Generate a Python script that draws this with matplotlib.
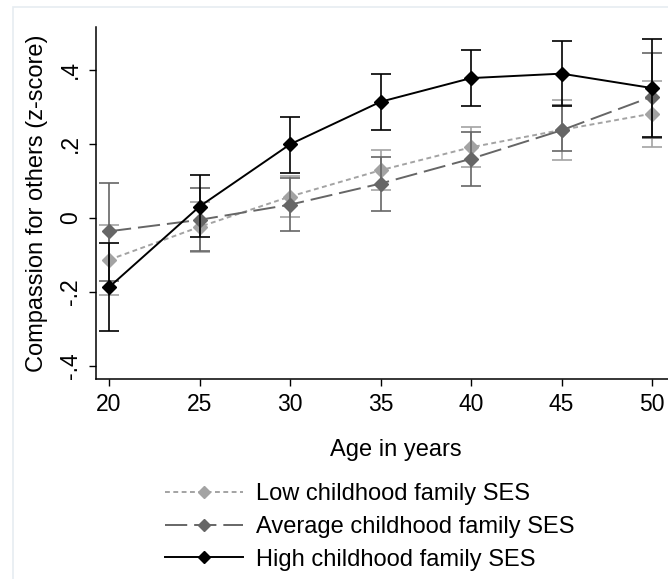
import matplotlib
matplotlib.use("Agg")
import matplotlib.pyplot as plt
from matplotlib.lines import Line2D
from matplotlib.patches import Rectangle

plt.rcParams['font.family'] = ['Liberation Sans', 'DejaVu Sans']
plt.rcParams['lines.scale_dashes'] = False

ages = [20, 25, 30, 35, 40, 45, 50]

low = [-0.113, -0.024, 0.058, 0.129, 0.191, 0.238, 0.282]
low_hi = [-0.019, 0.042, 0.113, 0.183, 0.246, 0.318, 0.370]
low_lo = [-0.209, -0.093, 0.002, 0.075, 0.137, 0.157, 0.193]

avg = [-0.036, -0.005, 0.036, 0.093, 0.160, 0.237, 0.328]
avg_hi = [0.095, 0.080, 0.108, 0.164, 0.231, 0.305, 0.447]
avg_lo = [-0.169, -0.090, -0.036, 0.020, 0.087, 0.180, 0.215]

high = [-0.187, 0.031, 0.199, 0.314, 0.378, 0.390, 0.351]
high_hi = [-0.068, 0.117, 0.274, 0.390, 0.454, 0.478, 0.483]
high_lo = [-0.306, -0.052, 0.122, 0.238, 0.302, 0.303, 0.220]

labels = ["Low childhood family SES", "Average childhood family SES", "High childhood family SES"]
y_ticks = [-0.4, -0.2, 0, 0.2, 0.4]
y_ticklabels = ["-.4", "-.2", "0", ".2", ".4"]

W, H = 668, 579
fig = plt.figure(figsize=(W / 100, H / 100), dpi=100)
ax = fig.add_axes([96 / W, 1 - 379 / H, 1 - 96 / W, (379 - 27) / H])

# faint outer frame
fig.patches.append(Rectangle((13 / W, -0.1), 1.2, 1 - 7 / H + 0.1, transform=fig.transFigure,
                             fill=False, edgecolor='#e6ecf1', linewidth=1.2))

series = [
    (low, low_lo, low_hi, '#a3a3a3', (3.5, 2.5)),
    (avg, avg_lo, avg_hi, '#666666', (16, 5)),
    (high, high_lo, high_hi, 'black', None),
]

handles = []
for (vals, lo, hi, col, dash), lab in zip(series, labels):
    err = [[v - l for v, l in zip(vals, lo)], [h - v for v, h in zip(vals, hi)]]
    ax.errorbar(ages, vals, yerr=err, fmt='none', ecolor=col, elinewidth=1.2,
                capsize=7, capthick=1.2)
    ln, = ax.plot(ages, vals, color=col, lw=1.4, marker='D', markersize=7,
                  markerfacecolor=col, markeredgecolor=col)
    if dash is not None:
        ln.set_dashes(dash)
    h = Line2D([], [], color=col, lw=1.4, marker='D', markersize=6.5)
    if dash is not None:
        h.set_dashes(dash)
    handles.append(h)

ax.set_xlim(19.28, 50.88)
ax.set_ylim(-0.435, 0.516)
ax.set_xticks(ages)
ax.set_yticks(y_ticks)
ax.set_yticklabels(y_ticklabels, rotation=90, va='center')
ax.tick_params(direction='out', length=5, width=1, labelsize=16.5, pad=5)
for s in ['top', 'right']:
    ax.spines[s].set_visible(False)
for s in ['left', 'bottom']:
    ax.spines[s].set_linewidth(1.1)

ax.set_ylabel("Compassion for others (z-score)", fontsize=17, labelpad=8)
fig.text((96 + 668) / 2 / W + 0.02, 1 - 450 / H, "Age in years", fontsize=17,
         ha='center', va='center')

fig.legend(handles, labels, loc='center left', bbox_to_anchor=(165 / W, 1 - 527 / H),
           frameon=False, fontsize=17, handlelength=3.3, handletextpad=0.55,
           labelspacing=0.45, borderaxespad=0, borderpad=0)

fig.savefig("out.png", dpi=100, facecolor='white')
